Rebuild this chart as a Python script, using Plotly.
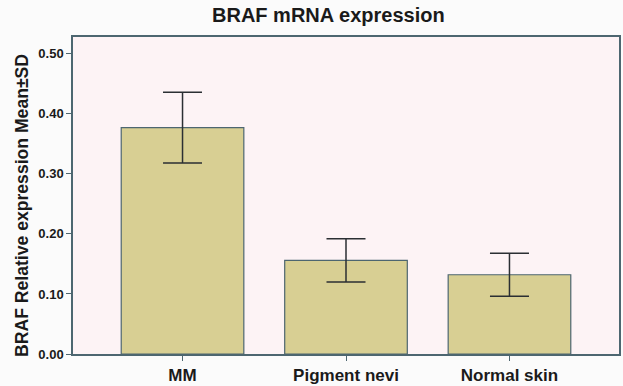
import plotly.graph_objects as go

categories = ["MM", "Pigment nevi", "Normal skin"]
means = [0.377, 0.156, 0.132]
sds = [0.059, 0.036, 0.036]
y_ticks = [0.0, 0.1, 0.2, 0.3, 0.4, 0.5]

fig = go.Figure()
fig.add_trace(go.Bar(
    x=categories, y=means,
    marker=dict(color="#d8cf93", line=dict(color="#4d6670", width=1.2)),
    width=0.75,
    error_y=dict(type="data", array=sds, visible=True, color="#2b2f33",
                 thickness=1.5, width=19.5),
))
fig.update_layout(
    width=623, height=386,
    margin=dict(l=73, r=4, t=37, b=32, autoexpand=False),
    paper_bgcolor="#fbfbfb",
    plot_bgcolor="#fdf3f5",
    showlegend=False,
    title=dict(text="<b>BRAF mRNA expression</b>", x=0.527, xanchor="center",
               y=0.96, yanchor="middle",
               font=dict(family="Liberation Sans, Arial", size=20, color="#1a1a1a")),
    font=dict(family="Liberation Sans, Arial", color="#1a1a1a"),
    annotations=[dict(
        text="<b>BRAF Relative expression Mean±SD</b>",
        xref="paper", yref="paper", x=-0.0934, y=0.467,
        xanchor="center", yanchor="middle", textangle=-90,
        showarrow=False, font=dict(size=17.6, color="#1a1a1a"),
    )],
)
fig.update_xaxes(
    range=[-0.67, 2.67],
    showline=True, mirror=True, linecolor="#4d6670", linewidth=1.5,
    ticks="outside", ticklen=5, tickcolor="#4d6670",
    tickfont=dict(size=17),
    tickvals=[0, 1, 2],
    ticktext=["<b>%s</b>" % c for c in categories],
    showgrid=False, automargin=False,
)
fig.update_yaxes(
    range=[0, 0.528],
    showline=True, mirror=True, linecolor="#4d6670", linewidth=1.5,
    ticks="outside", ticklen=5, tickcolor="#4d6670",
    tickvals=y_ticks,
    ticktext=["<b>%.2f</b>" % v for v in y_ticks],
    tickfont=dict(size=13),
    showgrid=False, zeroline=False, automargin=False,
)
fig.write_html("out.html", config={"displayModeBar": False},
               post_script="document.body.style.margin='0';")
